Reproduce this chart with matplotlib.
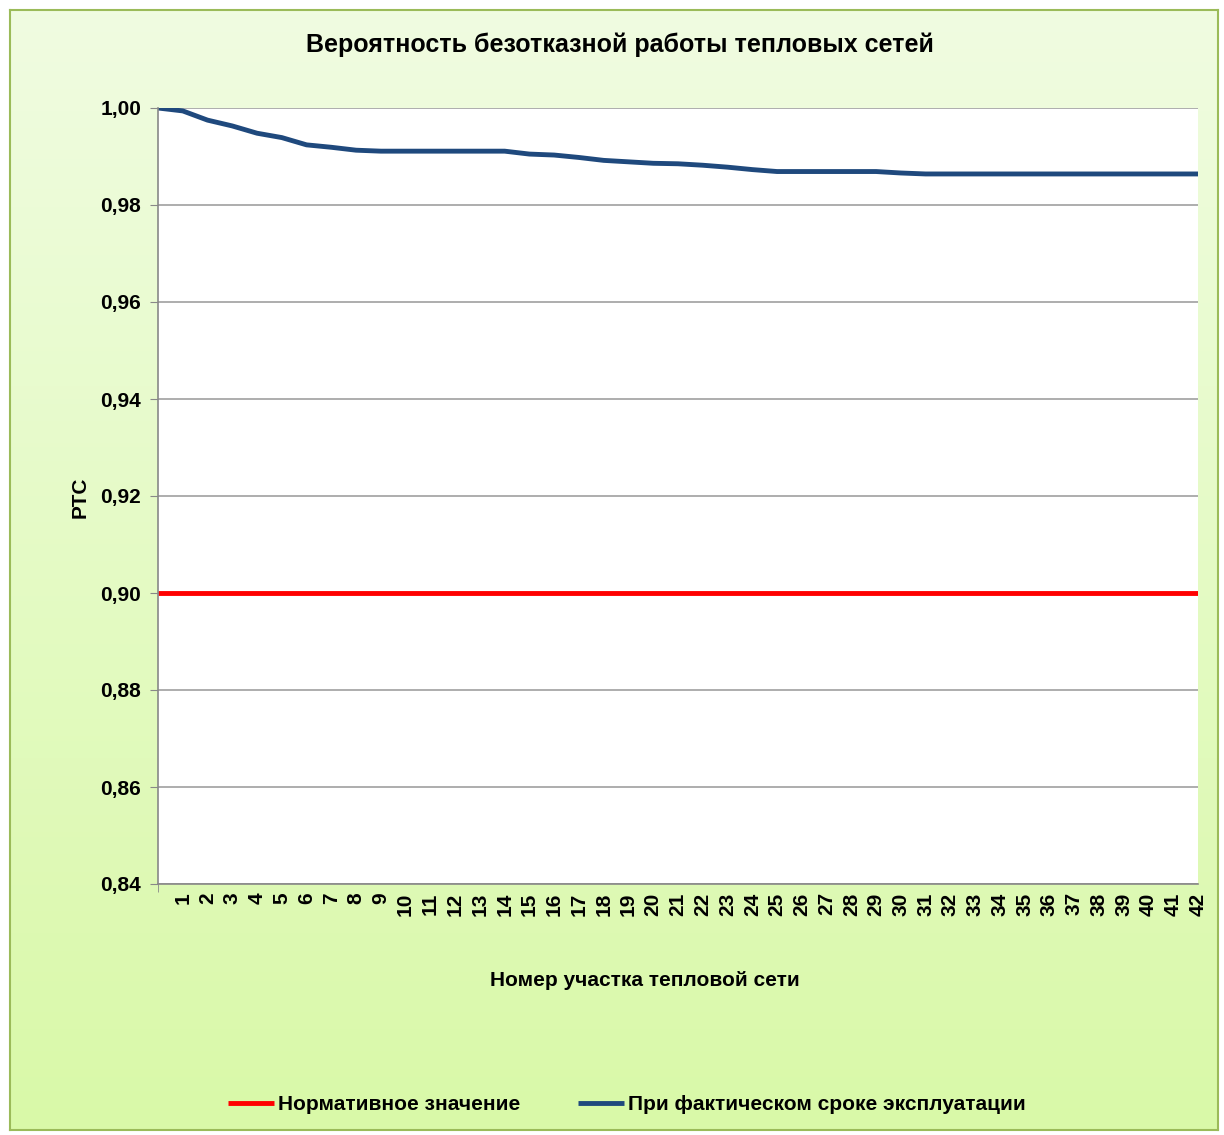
import numpy as np
import matplotlib.pyplot as plt
from matplotlib.ticker import FuncFormatter

plt.rcParams['font.family'] = ['Liberation Sans', 'DejaVu Sans']

# ---------------------------
# data
# ---------------------------
sections = list(range(0, 43))
fact = [1.0000, 0.9994, 0.9975, 0.9963, 0.9948, 0.9939, 0.9924, 0.9919, 0.9913, 0.9911,
        0.9911, 0.9911, 0.9911, 0.9911, 0.9911, 0.9905, 0.9903, 0.9898, 0.9892, 0.9889,
        0.9886, 0.9885, 0.9882, 0.9878, 0.9873, 0.9869, 0.9869, 0.9869, 0.9869, 0.9869,
        0.9866, 0.9864, 0.9864, 0.9864, 0.9864, 0.9864, 0.9864, 0.9864, 0.9864, 0.9864,
        0.9864, 0.9864, 0.9864]
norm = [0.90] * len(sections)
tick_labels = [str(i) for i in range(1, 43)]

title = "Вероятность безотказной работы тепловых сетей"
xlabel = "Номер участка тепловой сети"
ylabel = "РТС"
legend_labels = ["Нормативное значение", "При фактическом сроке эксплуатации"]

W, H = 1224, 1135
fig = plt.figure(figsize=(W / 100, H / 100), dpi=100)

# ---------------------------
# gradient background + border
# ---------------------------
bg = fig.add_axes([10 / W, 5 / H, 1208 / W, 1120 / H], zorder=-5)
grad = np.linspace(0, 1, 256).reshape(-1, 1)
top_c = np.array([240, 252, 225]) / 255
bot_c = np.array([217, 249, 168]) / 255
img = top_c[None, None, :] * (1 - grad[..., None]) + bot_c[None, None, :] * grad[..., None]
bg.imshow(img, aspect="auto", extent=[0, 1, 0, 1])
bg.set_xticks([])
bg.set_yticks([])
for s in bg.spines.values():
    s.set_color("#9bbb59")
    s.set_linewidth(1.5)

# ---------------------------
# main axes
# ---------------------------
ax = fig.add_axes([158 / W, 1 - 884 / H, 1040 / W, 776 / H])
ax.set_facecolor("white")

ax.plot(sections, norm, color="#ff0000", lw=3.5, label=legend_labels[0], solid_capstyle="butt")
ax.plot(sections, fact, color="#1f497d", lw=3.5, label=legend_labels[1], solid_capstyle="butt")

ax.set_xlim(0, 42)
ax.set_ylim(0.84, 1.00)
ax.set_yticks(np.arange(0.84, 1.001, 0.02))
ax.yaxis.set_major_formatter(FuncFormatter(lambda v, p: f"{v:.2f}".replace(".", ",")))
ax.set_xticks(range(1, 43))
ax.set_xticklabels(tick_labels, rotation=90, fontweight="bold", fontsize=15)
ax.set_xticks(range(0, 43), minor=True)
ax.tick_params(axis="x", which="major", length=0, pad=6)
ax.tick_params(axis="x", which="minor", length=6, color="#888888", direction="out")
ax.tick_params(axis="y", length=6, color="#888888", labelsize=15, pad=6)
for lab in ax.get_yticklabels():
    lab.set_fontweight("bold")

ax.grid(axis="y", color="#a0a0a0", lw=1.2)
ax.set_axisbelow(True)
for side in ["top", "right"]:
    ax.spines[side].set_visible(False)
for side in ["left", "bottom"]:
    ax.spines[side].set_color("#888888")
    ax.spines[side].set_linewidth(1.2)

fig.text(620 / W, 1 - 45 / H, title, ha="center", va="center", fontsize=18, fontweight="bold")
fig.text(645 / W, 1 - 980 / H, xlabel, ha="center", va="center", fontsize=15, fontweight="bold")
fig.text(80 / W, 1 - 497 / H, ylabel, ha="center", va="center", rotation=90, fontsize=15, fontweight="bold")

fig.legend(loc="center", bbox_to_anchor=(627 / W, 1 - 1105 / H), ncol=2, frameon=False,
           prop={"weight": "bold", "size": 15}, handlelength=2.2, handletextpad=0.2,
           columnspacing=2.8)

fig.savefig("out.png", dpi=100)
